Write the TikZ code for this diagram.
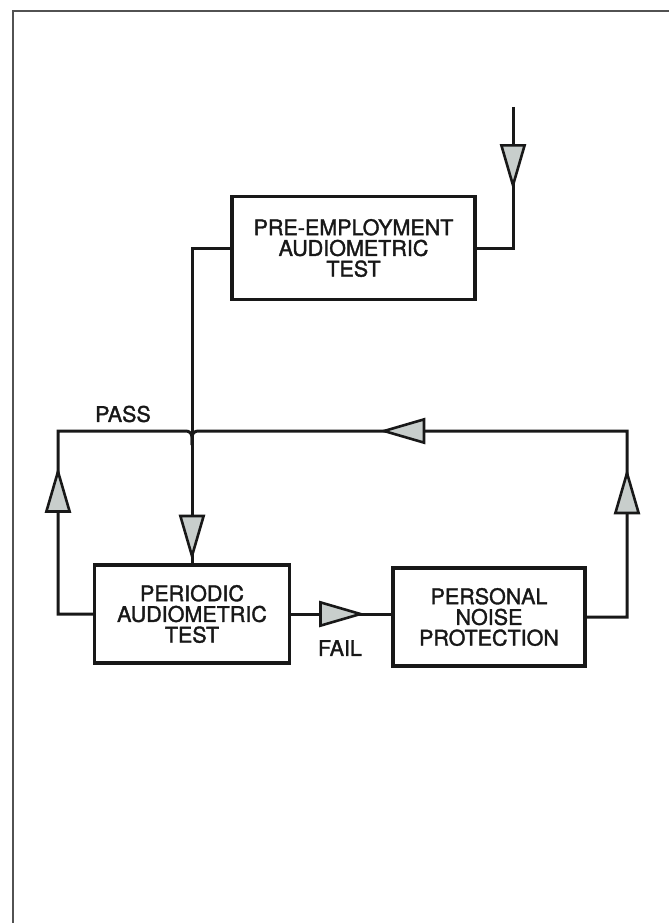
\documentclass[tikz,border=0pt]{standalone}
\usepackage{fontspec}
\setmainfont{TeX Gyre Heros}[BoldFont=TeX Gyre Heros, BoldFeatures={FakeBold=1.6}]
\usetikzlibrary{arrows.meta,decorations.markings}
\definecolor{ink}{RGB}{24,24,24}
\definecolor{headgray}{RGB}{200,206,204}

\begin{document}
\begin{tikzpicture}[
    x=1pt, y=-1pt,
    font=\fontsize{21.5}{20.7}\selectfont\bfseries,
    text=ink,
    box/.style={draw=ink, line width=3.4pt, align=center, inner sep=0pt},
    link/.style={draw=ink, line width=3pt},
    head/.style={postaction={decorate, decoration={markings,
        mark=at position #1 with {\arrow{Triangle[length=46pt, width=26pt, fill=headgray, line width=2.6pt]}}}}}
]
\useasboundingbox (0,0) rectangle (669,923);
\draw[ink!75, line width=2pt] (13,923) -- (13,11) -- (669,11);

% boxes
\node[box, minimum width=243pt, minimum height=103pt] (pre) at (353.5,248) {PRE-EMPLOYMENT\\AUDIOMETRIC\\TEST};
\node[box, minimum width=195pt, minimum height=98pt] (per) at (192,614) {PERIODIC\\AUDIOMETRIC\\TEST};
\node[box, minimum width=192pt, minimum height=98pt] (pnp) at (489,617) {PERSONAL\\NOISE\\PROTECTION};

\coordinate (in) at (513,107);
\coordinate (jn) at (192,431);
\coordinate (lc) at (58,431);
\coordinate (rc) at (627,431);

% connectors
\draw[link, head=83pt] (in) |- (pre.east);
\draw[link, head=351pt] (pre.west) -| (per.north);
\draw[link, head=74pt] (per.east) -- (per.east -| pnp.west);
\draw[link, head=182pt] (per.west) -| (lc) -- ([xshift=-30pt]jn) [rounded corners=6pt] -- (jn) -- ([yshift=-14pt]jn);
\draw[link, head=189pt, head=474pt] (pnp.east) -| (rc) -- ([xshift=30pt]jn) [rounded corners=6pt] -- (jn) -- ([yshift=-14pt]jn);

% labels
\node (pass) at (123,414) {PASS};
\node (fail) at (340,648) {FAIL};
\end{tikzpicture}
\end{document}
